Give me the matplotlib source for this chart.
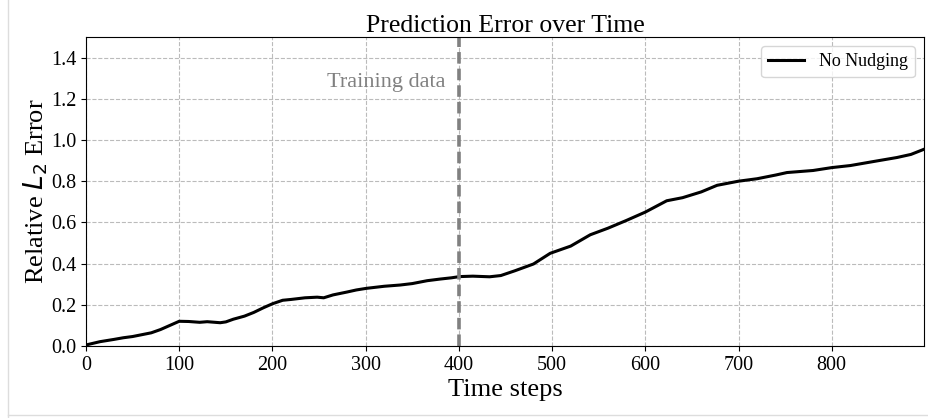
import matplotlib
matplotlib.use("Agg")
import matplotlib.pyplot as plt
from matplotlib.lines import Line2D
import numpy as np

# time step / relative L2 error
steps = [0, 15, 30, 40, 50, 60, 70, 80, 90, 100, 110, 122, 130, 144, 150, 158, 170,
         180, 190, 200, 211, 220, 235, 248, 255, 265, 280, 290, 301, 320, 337, 350,
         366, 380, 392, 401, 415, 433, 445, 460, 480, 498, 520, 541, 560, 580, 600,
         623, 640, 660, 677, 700, 720, 740, 752, 780, 800, 820, 848, 870, 885, 899]
error = [0.005, 0.021, 0.032, 0.04, 0.046, 0.055, 0.064, 0.08, 0.1, 0.12, 0.119, 0.115,
         0.118, 0.113, 0.117, 0.13, 0.145, 0.163, 0.185, 0.205, 0.222, 0.226, 0.234,
         0.237, 0.234, 0.248, 0.262, 0.272, 0.28, 0.29, 0.296, 0.303, 0.317, 0.325,
         0.331, 0.337, 0.339, 0.336, 0.342, 0.365, 0.398, 0.45, 0.485, 0.54, 0.572,
         0.61, 0.65, 0.705, 0.72, 0.748, 0.78, 0.8, 0.812, 0.83, 0.842, 0.852, 0.866,
         0.876, 0.898, 0.915, 0.93, 0.955]
train_end = 400

plt.rcParams["font.family"] = ["Liberation Serif", "DejaVu Serif"]


def main():
    fig = plt.figure(figsize=(9.29, 4.18), dpi=100)
    ax = fig.add_axes([86 / 929, 1 - 346 / 418, (924 - 86) / 929, (346 - 37) / 418])

    ax.plot(steps, error, color="black", lw=2.2, label="No Nudging")
    ax.axvline(train_end, color="#808080", lw=2.6, ls=(0, (3.2, 1.4)))
    ax.text(386, 1.28, "Training data", color="#808080", fontsize=16,
            ha="right", va="center")

    ax.set_xlim(0, 899)
    ax.set_ylim(0, 1.5)
    ax.set_xticks(np.arange(0, 900, 100))
    ax.set_yticks(np.arange(0, 1.41, 0.2))
    ax.tick_params(labelsize=14.5)
    ax.grid(True, ls="--", color="#bbbbbb", lw=0.8)

    ax.set_title("Prediction Error over Time", fontsize=18.5, pad=3)
    ax.set_xlabel("Time steps", fontsize=19, labelpad=3)
    ax.set_ylabel("Relative $L_2$ Error", fontsize=19, labelpad=1)
    ax.legend(loc="upper right", fontsize=13)

    # light frame around the figure
    fig.add_artist(Line2D([8 / 929, 8 / 929], [0, 1], color="#dddddd", lw=1))
    fig.add_artist(Line2D([8 / 929, 1], [3 / 418, 3 / 418], color="#dddddd", lw=1))

    fig.savefig("out.png", dpi=100)


if __name__ == "__main__":
    main()
